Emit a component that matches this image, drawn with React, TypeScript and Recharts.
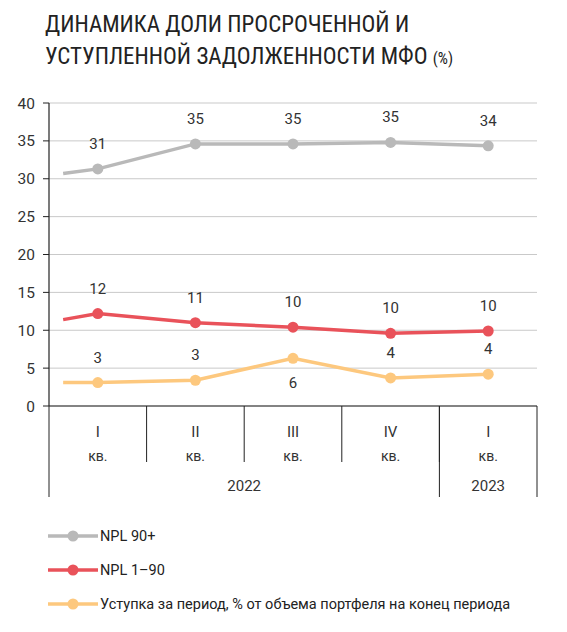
import React from "react";
import { LineChart, Line, XAxis, YAxis, CartesianGrid, LabelList } from "recharts";

// quarters (the first x slot is the unlabelled lead-in from the previous quarter)
const quarterPos = [-0.355, 0, 1, 2, 3, 4];
const quarterNames = ["", "I", "II", "III", "IV", "I"];
const npl90 = [30.7, 31.3, 34.6, 34.6, 34.8, 34.35];
const npl190 = [11.4, 12.2, 11.0, 10.4, 9.6, 9.9];
const cession = [3.1, 3.1, 3.4, 6.3, 3.7, 4.2];

const years = [
  { label: "2022", from: 0, to: 3 },
  { label: "2023", from: 4, to: 4 },
];
const yTicks = [0, 5, 10, 15, 20, 25, 30, 35, 40];

const series = [
  { key: "npl90", name: "NPL 90+", color: "#b9b9b9" },
  { key: "npl190", name: "NPL 1–90", color: "#e9525a" },
  { key: "cession", name: "Уступка за период, % от объема портфеля на конец периода", color: "#fdc87e" },
];

const rows = quarterPos.map((x, i) => ({
  x,
  name: quarterNames[i],
  npl90: npl90[i],
  npl190: npl190[i],
  cession: cession[i],
}));

const W = 567;
const H = 632;
const margin = { top: 103, right: 30, left: 9, bottom: 129 };
const Y_W = 40;
const plotW = W - margin.left - Y_W - margin.right;
const band = plotW / 5;
const font = "Roboto, 'Noto Sans', sans-serif";

const QuarterTick = (props: any) => {
  const { x, y, payload, index } = props;
  const name = quarterNames[quarterPos.indexOf(payload.value)];
  return (
    <g>
      {index > 0 && <line x1={x - band / 2} x2={x - band / 2} y1={y} y2={y + 56} stroke="#222" strokeWidth={1} />}
      <text x={x} y={y + 31} textAnchor="middle" fontSize={15} fill="#333" fontFamily={font}>{name}</text>
      <text x={x} y={y + 55} textAnchor="middle" fontSize={14} fill="#333" fontFamily={font}>кв.</text>
    </g>
  );
};

const YearTick = (props: any) => {
  const { x, y, payload } = props;
  const yr = years.find((g) => (g.from + g.to) / 2 === payload.value);
  if (!yr) return <g />;
  const half = ((yr.to - yr.from + 1) / 2) * band;
  const last = yr === years[years.length - 1];
  return (
    <g>
      <line x1={x - half} x2={x - half} y1={y - 62} y2={y + 29} stroke="#222" strokeWidth={1} />
      {last && <line x1={x + half} x2={x + half} y1={y - 62} y2={y + 29} stroke="#222" strokeWidth={1} />}
      <text x={x} y={y + 23} textAnchor="middle" fontSize={15} fill="#333" fontFamily={font}>{yr.label}</text>
    </g>
  );
};

const makeDot = (color: string) => (props: any) => {
  const { cx, cy, index } = props;
  if (index === 0) return <g key={`d-${index}`} />;
  return <circle key={`d-${index}`} cx={cx} cy={cy} r={5.5} fill={color} stroke="none" />;
};

const makeLabel = (below: number[]) => (props: any) => {
  const { x, y, value, index } = props;
  if (index === 0) return null;
  const dy = below.includes(index) ? 30 : -20;
  return (
    <text x={x} y={y + dy} textAnchor="middle" fontSize={15} fill="#333" fontFamily={font}>
      {Math.round(value)}
    </text>
  );
};

const labelBelow: Record<string, number[]> = { npl90: [], npl190: [], cession: [3] };

export default function App() {
  return (
    <div style={{ position: "relative", width: W, height: H, margin: -8, background: "#fff", fontFamily: font }}>
      <div
        style={{
          position: "absolute",
          left: 45,
          top: 9,
          fontFamily: "'Liberation Sans Narrow', 'Roboto Condensed', Roboto, sans-serif",
          fontSize: 23,
          lineHeight: "32px",
          color: "#222",
          whiteSpace: "nowrap",
        }}
      >
        ДИНАМИКА ДОЛИ ПРОСРОЧЕННОЙ И
        <br />
        УСТУПЛЕННОЙ ЗАДОЛЖЕННОСТИ МФО <span style={{ fontSize: 16 }}>(%)</span>
      </div>
      <div style={{ position: "absolute", left: 0, top: 0 }}>
        <LineChart width={W} height={H} data={rows} margin={margin}>
          <CartesianGrid vertical={false} stroke="#c9c9c9" strokeWidth={1} />
          <XAxis
            dataKey="x"
            type="number"
            domain={[-0.5, 4.5]}
            ticks={[0, 1, 2, 3, 4]}
            tick={<QuarterTick />}
            tickLine={false}
            tickSize={0}
            tickMargin={0}
            axisLine={{ stroke: "#222", strokeWidth: 1.2 }}
            height={62}
            interval={0}
          />
          <XAxis
            xAxisId="year"
            dataKey="x"
            type="number"
            domain={[-0.5, 4.5]}
            ticks={years.map((g) => (g.from + g.to) / 2)}
            tick={<YearTick />}
            tickLine={false}
            tickSize={0}
            tickMargin={0}
            axisLine={false}
            height={35}
            interval={0}
          />
          <YAxis
            domain={[0, 40]}
            ticks={yTicks}
            width={Y_W}
            tickSize={6}
            tickMargin={8}
            tickLine={{ stroke: "#222" }}
            axisLine={{ stroke: "#222", strokeWidth: 1.2 }}
            tick={{ fontSize: 15.5, fill: "#333", fontFamily: font }}
            interval={0}
          />
          {series.map((s) => (
            <Line
              key={s.key}
              dataKey={s.key}
              name={s.name}
              type="linear"
              stroke={s.color}
              strokeWidth={3.5}
              dot={makeDot(s.color)}
              activeDot={false}
              isAnimationActive={false}
            >
              <LabelList dataKey={s.key} content={makeLabel(labelBelow[s.key])} />
            </Line>
          ))}
        </LineChart>
      </div>
      <div style={{ position: "absolute", left: 48, top: 519 }}>
        {series.map((s) => (
          <div key={s.key} style={{ display: "flex", alignItems: "center", height: 34, marginBottom: 0 }}>
            <svg width={52} height={14}>
              <line x1={0} x2={50} y1={7} y2={7} stroke={s.color} strokeWidth={3.5} />
              <circle cx={25} cy={7} r={5.5} fill={s.color} />
            </svg>
            <span style={{ fontSize: 14.5, color: "#222", fontFamily: font }}>{s.name}</span>
          </div>
        ))}
      </div>
    </div>
  );
}
